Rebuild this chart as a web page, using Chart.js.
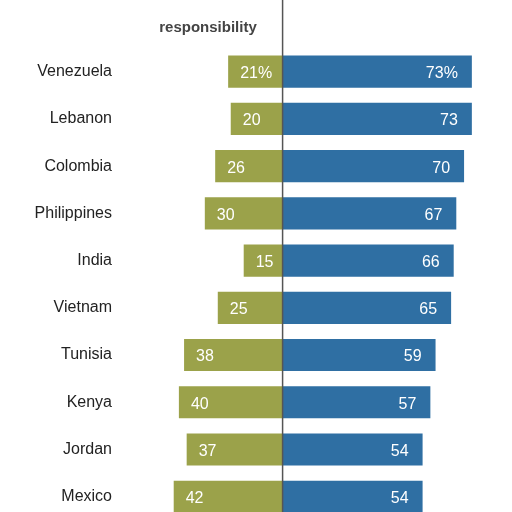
<!DOCTYPE html>
<html><head><script src="https://cdn.jsdelivr.net/npm/chart.js@4"></script>
<style>body{margin:0;background:#fff;overflow:hidden}#o{width:512px;height:512px;overflow:hidden}#w{width:512px;height:550px;position:relative}</style></head>
<body><div id="o"><div id="w"><canvas id="c"></canvas></div></div>
<script>
const categories=["Venezuela","Lebanon","Colombia","Philippines","India","Vietnam","Tunisia","Kenya","Jordan","Mexico"];
const leftValues=[21,20,26,30,15,25,38,40,37,42];
const rightValues=[73,73,70,67,66,65,59,57,54,54];
const leftLabels=["21%","20","26","30","15","25","38","40","37","42"];
const rightLabels=["73%","73","70","67","66","65","59","57","54","54"];
const txt={id:'txt',afterDatasetsDraw(ch){
 const c=ch.ctx,x=ch.scales.x,y=ch.scales.y;
 c.save();c.font='16px "Liberation Sans", Arial';c.fillStyle='#fff';c.textBaseline='middle';
 categories.forEach((k,i)=>{const yy=y.getPixelForValue(i)+2;
  c.textAlign='left';c.fillText(leftLabels[i],x.getPixelForValue(-leftValues[i])+12,yy);
  c.textAlign='right';c.fillText(rightLabels[i],x.getPixelForValue(rightValues[i])-14,yy);});
 const z=x.getPixelForValue(0);c.strokeStyle='#555';c.lineWidth=1.5;c.beginPath();c.moveTo(z,0);c.lineTo(z,550);c.stroke();
 c.font='bold 15px "Liberation Sans", Arial';c.fillStyle='#444';c.textAlign='center';c.fillText('responsibility',208,28);
 c.restore();}};
new Chart(document.getElementById('c'),{type:'bar',
 data:{labels:categories,datasets:[
  {data:leftValues.map(v=>-v),backgroundColor:'#9ba24a',borderWidth:0},
  {data:rightValues,backgroundColor:'#2f6fa3',borderWidth:0}]},
 options:{indexAxis:'y',responsive:true,maintainAspectRatio:false,animation:false,
  layout:{padding:{top:48,bottom:9,right:22,left:0}},
  plugins:{legend:{display:false},tooltip:{enabled:false}},
  datasets:{bar:{barPercentage:0.68,categoryPercentage:1,grouped:false}},
  scales:{x:{min:-55,max:80,display:false},
   y:{grid:{display:false},border:{display:false},afterFit(s){s.width=140},
    ticks:{color:'#222',font:{size:16,family:'"Liberation Sans", Arial'},padding:20}}}},
 plugins:[txt]});
</script></body></html>
